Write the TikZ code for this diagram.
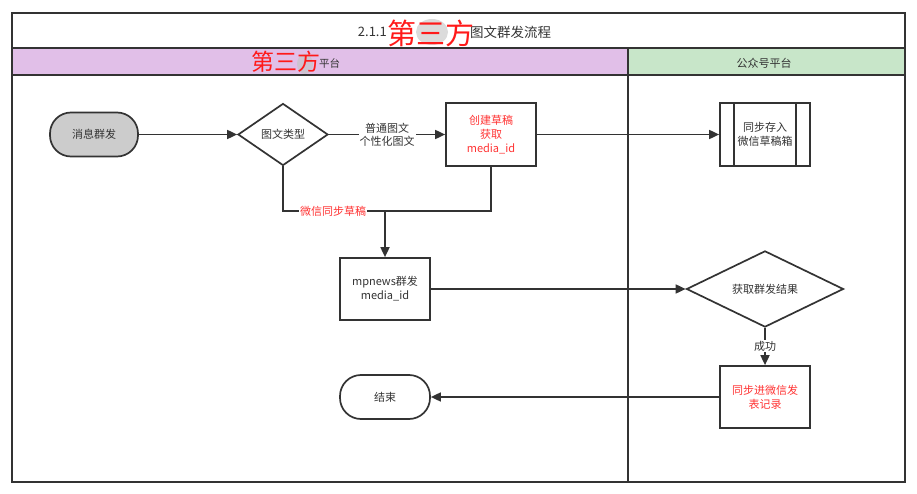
\documentclass[tikz,border=0pt]{standalone}
\usepackage{fontspec}
\setmainfont{Noto Sans CJK SC}
\usetikzlibrary{arrows.meta,shapes.geometric}
\definecolor{ln}{HTML}{333333}
\definecolor{lanep}{HTML}{E1BFE8}
\definecolor{laneg}{HTML}{C8E6C9}
\definecolor{startg}{HTML}{CCCCCC}
\definecolor{rtxt}{HTML}{FF3333}
\definecolor{wm}{HTML}{FF1A1A}
\tikzset{
  frame/.style={draw=ln, line width=1.9pt},
  box/.style={draw=ln, line width=1.7pt, fill=white, minimum width=90pt, minimum height=63pt, inner sep=2pt, align=center, font=\fontsize{11}{14}\selectfont, text=ln},
  term/.style={box, rounded corners=21pt, minimum height=44pt},
  dia/.style={draw=ln, line width=1.7pt, fill=white, diamond, inner sep=0pt, align=center, font=\fontsize{11}{14}\selectfont, text=ln},
  conn/.style={draw=ln, line width=1.7pt, -{Triangle[length=10pt,width=9pt,color=ln,fill=ln]}},
  plain/.style={draw=ln, line width=1.7pt},
  elab/.style={fill=white, inner sep=1pt, align=center, font=\fontsize{11}{13}\selectfont, text=ln},
  wmark/.style={text=wm, inner sep=0pt},
}
\begin{document}
\begin{tikzpicture}[x=1pt,y=-1pt]
\useasboundingbox (0,0) rectangle (917,494);
% lanes
\fill[white] (12,13) rectangle (905,482);
\fill[lanep] (12,48) rectangle (628,75);
\fill[laneg] (628,48) rectangle (905,75);
\draw[frame] (12,13) rectangle (905,482);
\draw[frame] (12,48) -- (905,48);
\draw[frame] (12,75) -- (905,75);
\draw[frame] (628,48) -- (628,482);
% title
\node[anchor=east, text=ln, font=\fontsize{13}{15}\selectfont, inner sep=0pt] (t1) at (387,32) {2.1.1};
\fill[gray!35, opacity=0.8] (432,32) ellipse (16pt and 13pt);
\node[anchor=west, text=ln, font=\fontsize{13.5}{15}\selectfont, inner sep=0pt] (t2) at (470,32) {图文群发流程};
\node[wmark, font=\fontsize{29}{30}\selectfont] (w1) at (431,33) {第三方};
% lane headers
\fill[gray!45, opacity=0.7] (305,64) ellipse (8pt and 10pt);
\node[anchor=west, text=ln, font=\fontsize{10.5}{12}\selectfont, inner sep=0pt] (h1) at (319,63) {平台};
\node[wmark, font=\fontsize{23}{24}\selectfont] (w2) at (286,62) {第三方};
\node[text=ln, font=\fontsize{11}{13}\selectfont] (h2) at (764,63) {公众号平台};
% nodes
\node[term, fill=startg, minimum width=88pt] (start) at (94,134.5) {消息群发};
\node[dia, minimum width=90pt, minimum height=62pt] (type) at (283,134.5) {图文类型};
\node[box, text=rtxt] (draft) at (491,134.5) {创建草稿\\获取\\media\_id};
\node[box] (store) at (765,134.5) {同步存入\\微信草稿箱};
\draw[plain] ([xshift=15pt]store.north west) -- ([xshift=15pt]store.south west);
\draw[plain] ([xshift=-15pt]store.north east) -- ([xshift=-15pt]store.south east);
\node[box, minimum height=62pt] (mp) at (385,289) {mpnews群发\\media\_id};
\node[dia, minimum width=157pt, minimum height=72pt] (res) at (765,289) {获取群发结果};
\node[box, text=rtxt, minimum height=62pt] (rec) at (765,397) {同步进微信发\\表记录};
\node[term, minimum width=90pt] (end) at (385,397) {结束};
\coordinate (jy) at (0,211);
% connectors
\draw[conn] (start) -- (type);
\draw[conn] (type) -- (draft);
\node[elab] (l1) at (387,134.5) {普通图文\\个性化图文};
\draw[conn] (draft) -- (store);
\draw[plain] (type.south) -- (type.south |- jy) -- (draft.south |- jy) -- (draft.south);
\node[elab, text=rtxt] (lab) at (333,211) {微信同步草稿};
\draw[conn] (mp.north |- jy) -- (mp.north);
\draw[conn] (mp) -- (res);
\draw[conn] (res) -- (rec);
\node[elab] (l2) at (765,346) {成功};
\draw[conn] (rec) -- (end);
\end{tikzpicture}
\end{document}
